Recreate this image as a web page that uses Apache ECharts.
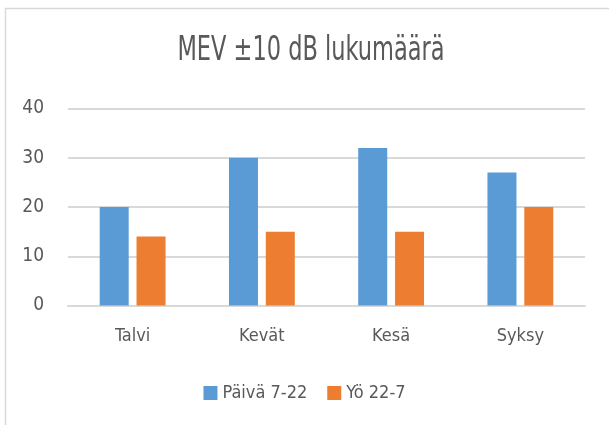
<!DOCTYPE html>
<html><head><meta charset="utf-8">
<script src="https://cdn.jsdelivr.net/npm/echarts@6/dist/echarts.min.js"></script>
<style>html,body{margin:0;padding:0;background:#fff}#c{width:609px;height:425px}</style>
</head><body><div id="c"></div>
<script>
const categories = ['Talvi', 'Kevät', 'Kesä', 'Syksy'];
const seriesNames = ['Päivä 7-22', 'Yö 22-7'];
const paiva = [20, 30, 32, 27];
const yo = [14, 15, 15, 20];
const titleText = 'MEV ±10 dB lukumäärä';

const FONT = '"Liberation Sans Narrow", "DejaVu Sans Condensed", sans-serif';
const chart = echarts.init(document.getElementById('c'));
chart.setOption({
  animation: false,
  backgroundColor: '#fff',
  graphic: [
    { type: 'rect', shape: { x: 5.5, y: 8.5, width: 700, height: 500 }, style: { fill: 'none', stroke: '#d9d9d9', lineWidth: 1.5 }, z: -1 },
    { type: 'text', x: 311, y: 51, scaleY: 1.32, style: { text: titleText, font: '25px ' + FONT, fill: '#595959', align: 'center', verticalAlign: 'middle' } }
  ],
  legend: {
    bottom: 18, left: 'center',
    itemWidth: 14, itemHeight: 14, itemGap: 20,
    icon: 'rect',
    textStyle: { fontFamily: FONT, fontSize: 18, color: '#595959' },
    data: seriesNames
  },
  grid: { left: 68, right: 24, top: 108.5, bottom: 119.5, containLabel: false },
  xAxis: {
    type: 'category', data: categories,
    axisLine: { show: true, lineStyle: { color: '#d9d9d9', width: 2 } },
    axisTick: { show: false },
    axisLabel: { fontFamily: FONT, fontSize: 18, color: '#595959', margin: 22 }
  },
  yAxis: {
    type: 'value', min: 0, max: 40, interval: 10,
    axisLine: { show: false }, axisTick: { show: false },
    splitLine: { lineStyle: { color: '#d9d9d9', width: 2 } },
    axisLabel: { fontFamily: FONT, fontSize: 19, color: '#595959', margin: 24, padding: [10, 0, 0, 0] }
  },
  series: [
    { name: seriesNames[0], type: 'bar', data: paiva, barWidth: 29, barGap: '27%', itemStyle: { color: '#5b9bd5' } },
    { name: seriesNames[1], type: 'bar', data: yo, barWidth: 29, barGap: '27%', itemStyle: { color: '#ed7d31' } }
  ]
});
</script></body></html>
